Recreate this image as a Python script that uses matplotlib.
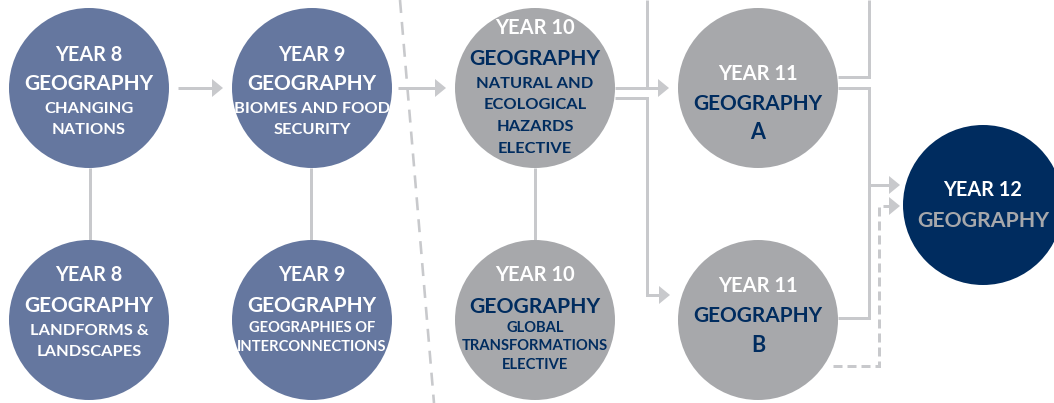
import matplotlib
matplotlib.use("Agg")
import matplotlib.pyplot as plt
from matplotlib.patches import Circle, Polygon

plt.rcParams['lines.scale_dashes'] = False
FONT = ['Lato', 'DejaVu Sans']

# ---- data: node labels ----
node_ids = ["y8a", "y9a", "y8b", "y9b", "y10a", "y10b", "y11a", "y11b", "y12"]
year_labels = ["YEAR 8", "YEAR 9", "YEAR 8", "YEAR 9", "YEAR 10", "YEAR 10",
               "YEAR 11", "YEAR 11", "YEAR 12"]
subject_labels = ["GEOGRAPHY"] * 9
unit_labels = [
    ["CHANGING", "NATIONS"],
    ["BIOMES AND FOOD", "SECURITY"],
    ["LANDFORMS &", "LANDSCAPES"],
    ["GEOGRAPHIES OF", "INTERCONNECTIONS"],
    ["NATURAL AND", "ECOLOGICAL", "HAZARDS", "ELECTIVE"],
    ["GLOBAL", "TRANSFORMATIONS", "ELECTIVE"],
    ["A"],
    ["B"],
    [],
]

# ---- layout (pixels, y down) ----
centers = {"y8a": (89, 88), "y9a": (312, 88), "y8b": (89, 320), "y9b": (312, 320),
           "y10a": (535, 88), "y10b": (535, 320), "y11a": (758, 88), "y11b": (758, 320),
           "y12": (983, 205)}
R = 80
BLUE = "#65779f"
GREY = "#a7a8ab"
NAVY = "#002c5f"
LINE = "#c8c9cc"
WHITE = "#ffffff"

styles = {
    "y8a": dict(fc=BLUE, year_c=WHITE, subj_c=WHITE, unit_c=WHITE, year_fs=14.3, subj_fs=15.0, unit_fs=11.8),
    "y9a": dict(fc=BLUE, year_c=WHITE, subj_c=WHITE, unit_c=WHITE, year_fs=14.3, subj_fs=15.0, unit_fs=11.8),
    "y8b": dict(fc=BLUE, year_c=WHITE, subj_c=WHITE, unit_c=WHITE, year_fs=14.3, subj_fs=15.0, unit_fs=11.8),
    "y9b": dict(fc=BLUE, year_c=WHITE, subj_c=WHITE, unit_c=WHITE, year_fs=14.3, subj_fs=15.0, unit_fs=10.6),
    "y10a": dict(fc=GREY, year_c=WHITE, subj_c=NAVY, unit_c=NAVY, year_fs=14.5, subj_fs=15.2, unit_fs=11.8),
    "y10b": dict(fc=GREY, year_c=WHITE, subj_c=NAVY, unit_c=NAVY, year_fs=14.5, subj_fs=15.2, unit_fs=10.6),
    "y11a": dict(fc=GREY, year_c=WHITE, subj_c=NAVY, unit_c=NAVY, year_fs=14.5, subj_fs=15.0, unit_fs=15.5),
    "y11b": dict(fc=GREY, year_c=WHITE, subj_c=NAVY, unit_c=NAVY, year_fs=14.5, subj_fs=15.0, unit_fs=15.5),
    "y12": dict(fc=NAVY, year_c=WHITE, subj_c=GREY, unit_c=GREY, year_fs=14.3, subj_fs=15.3, unit_fs=12),
}
# vertical centres (cap centre, pixels) for each text line
line_y = {
    "y8a": [54, 82, 107.5, 128.5],
    "y9a": [54, 82, 107.5, 128.5],
    "y8b": [274, 305, 329, 350],
    "y9b": [274, 305, 327, 345.5],
    "y10a": [27, 57, 82, 103.5, 125.5, 147.5],
    "y10b": [274, 305, 327, 345, 364],
    "y11a": [73, 102.5, 131],
    "y11b": [285, 314.5, 344],
    "y12": [189, 219],
}

# connectors: solid polylines
solid_paths = [
    [(90, 168), (90, 240)],
    [(311, 168), (311, 240)],
    [(535, 168), (535, 240)],
    [(178, 88), (213, 88)],
    [(398, 88), (436, 88)],
    [(647, 0), (647, 88)],
    [(615, 88), (659, 88)],
    [(615, 98), (647, 98), (647, 295), (660, 295)],
    [(869, 0), (869, 77), (838, 77)],
    [(838, 88), (869, 88), (869, 318), (838, 318)],
    [(869, 185), (890, 185)],
]
dashed_paths = [
    [(833, 366), (879, 366), (879, 206), (890, 206)],
]
arrow_tips = [(223, 88), (446, 88), (669, 88), (670, 295), (900, 185), (900, 206)]
divider = [(400, 0), (434, 403)]

W, H = 1054, 403
fig = plt.figure(figsize=(W / 100, H / 100), dpi=100)
ax = fig.add_axes([0, 0, 1, 1])
ax.set_xlim(0, W)
ax.set_ylim(H, 0)
ax.axis("off")

LW = 3 * 0.72

# divider dashed line
ax.plot([p[0] for p in divider], [p[1] for p in divider], color=LINE, lw=2.6 * 0.72,
        dashes=(13 * 0.72, 9 * 0.72), solid_capstyle='butt', zorder=1)

for path in solid_paths:
    ax.plot([p[0] for p in path], [p[1] for p in path], color=LINE, lw=LW,
            solid_joinstyle='miter', solid_capstyle='butt', zorder=1)
for path in dashed_paths:
    ax.plot([p[0] for p in path], [p[1] for p in path], color=LINE, lw=LW,
            dashes=(9 * 0.72, 5 * 0.72), dash_joinstyle='miter', zorder=1)
for (tx, ty) in arrow_tips:
    ax.add_patch(Polygon([(tx, ty), (tx - 11, ty - 9), (tx - 11, ty + 9)], closed=True,
                         fc=LINE, ec='none', zorder=2))

CAP = 0.72  # cap height / em
for i, nid in enumerate(node_ids):
    cx, cy = centers[nid]
    st = styles[nid]
    ax.add_patch(Circle((cx, cy), R, fc=st["fc"], ec='none', zorder=3))
    lines = [(year_labels[i], st["year_c"], st["year_fs"]),
             (subject_labels[i], st["subj_c"], st["subj_fs"])]
    for u in unit_labels[i]:
        lines.append((u, st["unit_c"], st["unit_fs"]))
    for (txt, col, fs), yc in zip(lines, line_y[nid]):
        cap_px = fs / 0.72 * CAP
        ax.text(cx, yc + cap_px / 2, txt, color=col, fontsize=fs, fontweight='bold',
                family=FONT, ha='center', va='baseline', zorder=4)

fig.savefig("out.png", dpi=100)
